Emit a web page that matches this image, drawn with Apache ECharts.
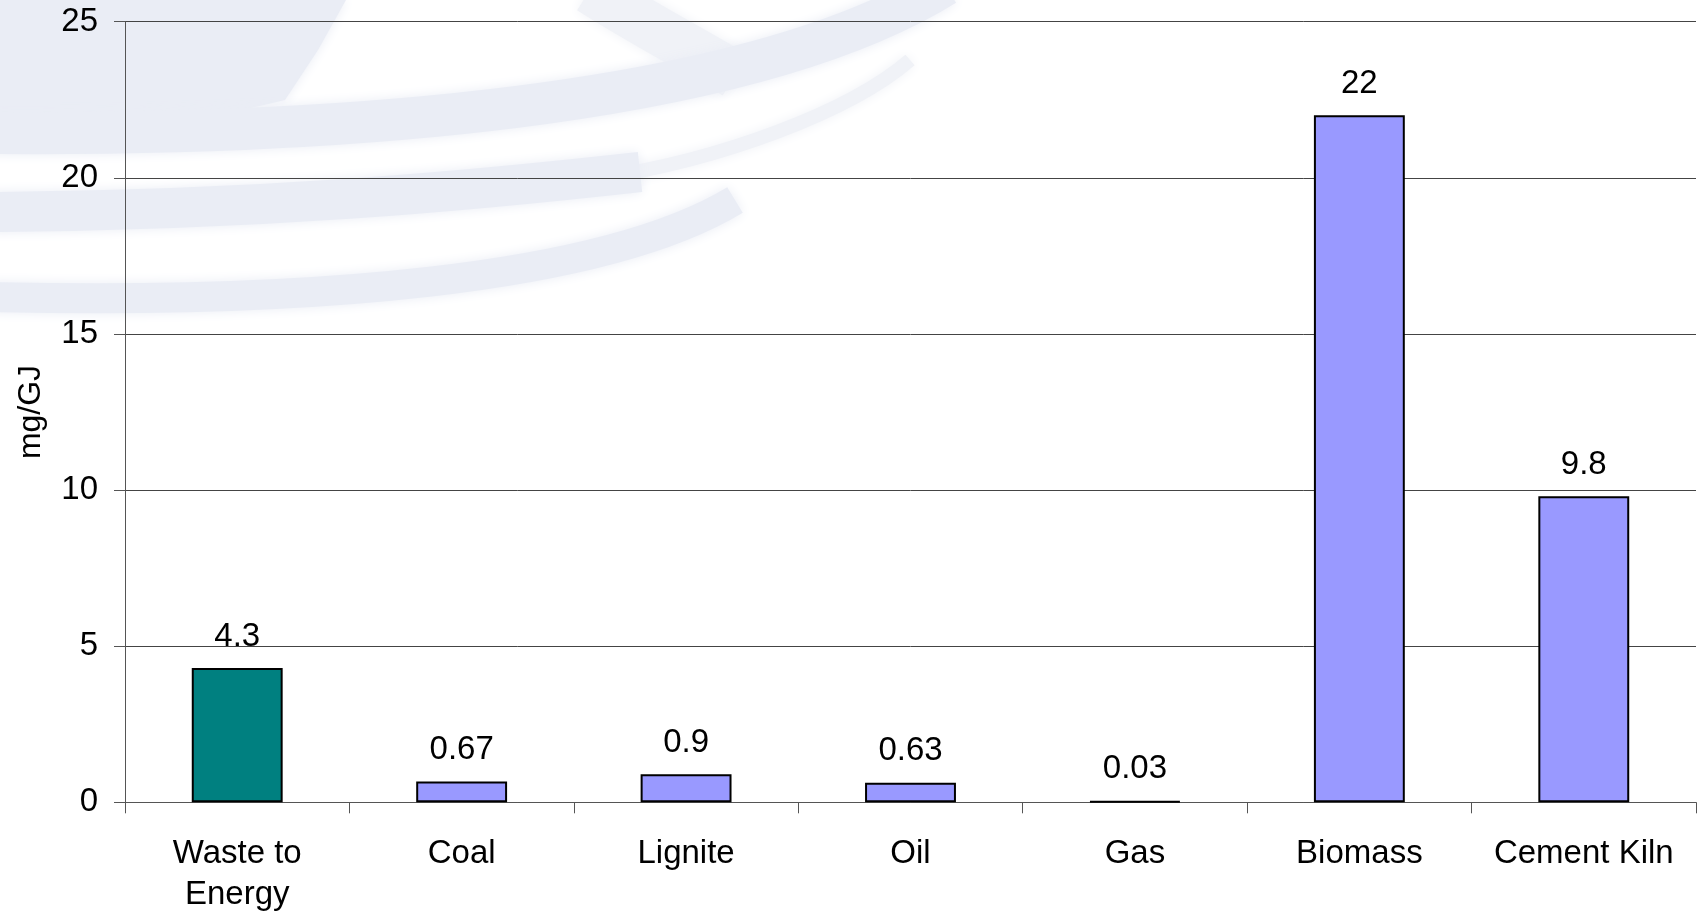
<!DOCTYPE html>
<html>
<head>
<meta charset="utf-8">
<title>mg/GJ by fuel type</title>
<script src="https://cdn.jsdelivr.net/npm/echarts@6/dist/echarts.min.js"></script>
<style>
  html, body { margin: 0; padding: 0; background: #fff; overflow: hidden; }
  #chart { width: 1702px; height: 911px; }
</style>
</head>
<body>
<div id="chart"></div>
<script>
// Categories and values
const categories = ['Waste to\nEnergy', 'Coal', 'Lignite', 'Oil', 'Gas', 'Biomass', 'Cement Kiln'];
const values = [4.3, 0.67, 0.9, 0.63, 0.03, 22, 9.8];
const barColors = ['#008080', '#9999FF', '#9999FF', '#9999FF', '#9999FF', '#9999FF', '#9999FF'];
const yTicks = { min: 0, max: 25, interval: 5 };
const yName = 'mg/GJ';

const FONT = '"Liberation Sans", Arial, sans-serif';
const WM = '#eaedf5';
const WM_LIGHT = '#f0f2f7';

const chart = echarts.init(document.getElementById('chart'), null, { renderer: 'canvas' });

// Faint decorative globe-and-swoosh watermark behind the plot (lighter parts first)
const soft = c => ({ shadowBlur: 12, shadowColor: c });
const watermark = [
  { type: 'bezierCurve', shape: { x1: 590, y1: -10, cpx1: 640, cpy1: 22, cpx2: 690, cpy2: 48, x2: 735, y2: 75 },
    style: Object.assign({ stroke: WM_LIGHT, lineWidth: 48, fill: 'none' }, soft(WM_LIGHT)) },
  { type: 'bezierCurve', shape: { x1: 600, y1: 178, cpx1: 720, cpy1: 160, cpx2: 850, cpy2: 112, x2: 910, y2: 60 },
    style: Object.assign({ stroke: WM_LIGHT, lineWidth: 14, fill: 'none' }, soft(WM_LIGHT)) },
  { type: 'polygon', shape: { points: [[0, 0], [346, 0], [318, 50], [285, 100], [200, 120], [0, 125]] },
    style: Object.assign({ fill: WM }, soft(WM)) },
  { type: 'bezierCurve', shape: { x1: -10, y1: 133, cpx1: 380, cpy1: 136, cpx2: 760, cpy2: 100, x2: 945, y2: -15 },
    style: Object.assign({ stroke: WM, lineWidth: 42, fill: 'none' }, soft(WM)) },
  { type: 'bezierCurve', shape: { x1: -10, y1: 212, cpx1: 260, cpy1: 210, cpx2: 460, cpy2: 192, x2: 640, y2: 172 },
    style: Object.assign({ stroke: WM, lineWidth: 40, fill: 'none' }, soft(WM)) },
  { type: 'bezierCurve', shape: { x1: -10, y1: 297, cpx1: 300, cpy1: 304, cpx2: 600, cpy2: 282, x2: 735, y2: 200 },
    style: Object.assign({ stroke: WM, lineWidth: 30, fill: 'none' }, soft(WM)) }
].map(el => Object.assign(el, { z: -10, silent: true }));

chart.setOption({
  backgroundColor: '#ffffff',
  animation: false,
  graphic: { elements: watermark },
  grid: { left: 125, right: 6, top: 21.7, bottom: 108.7, containLabel: false, outerBoundsMode: 'none' },
  xAxis: {
    type: 'category',
    data: categories,
    boundaryGap: true,
    axisLine: { lineStyle: { color: '#555', width: 1 } },
    axisTick: { show: true, length: 11, alignWithLabel: false, lineStyle: { color: '#555' } },
    axisLabel: {
      color: '#000', fontFamily: FONT, fontSize: 33, lineHeight: 41,
      margin: 31, interval: 0
    },
    splitLine: { show: false }
  },
  yAxis: {
    type: 'value',
    min: yTicks.min, max: yTicks.max, interval: yTicks.interval,
    name: yName,
    nameLocation: 'middle',
    nameGap: 78,
    nameRotate: 90,
    nameTextStyle: { color: '#000', fontFamily: FONT, fontSize: 32 },
    axisLine: { show: true, lineStyle: { color: '#555', width: 1 } },
    axisTick: { show: true, length: 11, lineStyle: { color: '#555' } },
    axisLabel: { color: '#000', fontFamily: FONT, fontSize: 33, margin: 27 },
    splitLine: { show: true, lineStyle: { color: '#444', width: 1 } }
  },
  series: [{
    type: 'bar',
    data: values.map((v, i) => ({ value: v, itemStyle: { color: barColors[i] } })),
    barWidth: '40.5%',
    itemStyle: { borderColor: '#000', borderWidth: 2 },
    label: {
      show: true, position: 'top', distance: 15,
      color: '#000', fontFamily: FONT, fontSize: 33
    }
  }]
});
</script>
</body>
</html>
